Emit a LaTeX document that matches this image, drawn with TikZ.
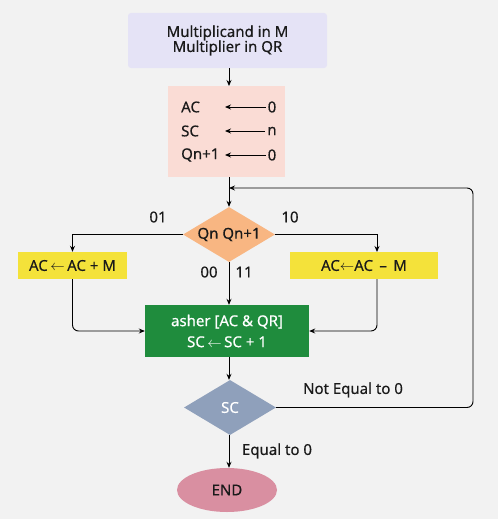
\documentclass[tikz,border=0pt]{standalone}
\usepackage{fontspec}
\setmainfont{Noto Sans}[FakeBold=0.4]
\usetikzlibrary{shapes.geometric,arrows.meta}
\definecolor{bg}{HTML}{F2F2F2}
\definecolor{lav}{HTML}{E5E3F6}
\definecolor{pinkbox}{HTML}{FADCD5}
\definecolor{orng}{HTML}{F8B682}
\definecolor{yel}{HTML}{F4E23A}
\definecolor{grn}{HTML}{1F8C3D}
\definecolor{slate}{HTML}{8FA0BB}
\definecolor{rose}{HTML}{D98FA1}
\definecolor{txt}{HTML}{1A1A1A}
\begin{document}
\begin{tikzpicture}[x=1pt,y=-1pt,
  font=\fontsize{15}{18}\selectfont,text=txt,
  arr/.style={-{Stealth[length=6pt,width=5pt]},line width=0.9pt},
  dia/.style={diamond,aspect=1.67,inner sep=0pt,minimum width=92pt,minimum height=55pt,draw=none},
  lbl/.style={inner sep=0pt}]
\fill[bg] (0,0) rectangle (498,519);
\useasboundingbox (0,0) rectangle (498,519);
% top box
\node[fill=lav,rounded corners=3pt,minimum width=199pt,minimum height=55pt,align=center,inner sep=0pt] (start) at (227.5,40.5) {Multiplicand in M\\[-3pt]Multiplier in QR};
% init box
\node[fill=pinkbox,minimum width=117pt,minimum height=91pt,inner sep=0pt] (init) at (226.5,131.5) {};
\node[lbl,anchor=west] (ac) at (181,107) {AC};
\node[lbl,anchor=west] (sc) at (181,131) {SC};
\node[lbl,anchor=west] (qn) at (181,155) {Qn+1};
\node[lbl] (v1) at (272,107) {0};
\node[lbl] (v2) at (272,131) {n};
\node[lbl] (v3) at (272,155) {0};
\coordinate (t1) at (225,107);
\coordinate (t2) at (225,131);
\coordinate (t3) at (225,155);
\draw[arr] (v1.west) ++(-2,0) -- (t1);
\draw[arr] (v2.west) ++(-2,0) -- (t2);
\draw[arr] (v3.west) ++(-2,0) -- (t3);
% decision
\node[dia,fill=orng] (q) at (229,234.5) {Qn Qn+1};
\node[fill=yel,minimum width=109pt,minimum height=27pt,inner sep=0pt] (add) at (72.5,265.5) {AC\,$\leftarrow$\,AC + M};
\node[fill=yel,minimum width=148pt,minimum height=27pt,inner sep=0pt] (sub) at (364,265.5) {AC$\leftarrow$AC \,\textendash\, M};
\node[fill=grn,text=white,minimum width=164pt,minimum height=52pt,align=center,inner sep=0pt,font=\fontsize{15}{21}\selectfont] (sh) at (227,331) {asher [AC \& QR]\\SC\,$\leftarrow$\,SC + 1};
\node[dia,fill=slate,text=white] (scd) at (230,407.5) {SC};
\node[ellipse,fill=rose,minimum width=100pt,minimum height=44pt,inner sep=0pt] (end) at (227,490) {END};
% connectors
\coordinate (a1) at (229,68);
\coordinate (a2) at (229,86);
\draw[arr] (a1) -- (a2);
\coordinate (b1) at (229,177);
\coordinate (m) at (229,188);
\coordinate (subtop) at (377,252);
\coordinate (subbot) at (377,279);
\draw[arr] (b1) -- (q.north);
\draw[arr] (q.west) -| (add.north);
\draw[arr] (q.east) -| (subtop);
\draw[arr] (q.south) -- (sh.north -| q.south);
\draw[arr,rounded corners=6pt] (add.south) |- (sh.west);
\draw[arr,rounded corners=6pt] (subbot) |- (sh.east);
\draw[arr] (sh.south -| q.south) -- (scd.north -| q.south);
\draw[arr] (scd.south -| q.south) -- (end.north -| q.south);
\coordinate (rb) at (473,407.5);
\coordinate (rc) at (473,188);
\draw[arr,rounded corners=6pt] (scd.east) -- (rb) -- (rc) -- (m);
\node[lbl] (l01) at (158,217) {01};
\node[lbl] (l10) at (290,217) {10};
\node[lbl] (l00) at (209,272) {00};
\node[lbl] (l11) at (244,272) {11};
\node[lbl] (lne) at (353,390) {Not Equal to 0};
\node[lbl] (leq) at (277,451) {Equal to 0};
\end{tikzpicture}
\end{document}
